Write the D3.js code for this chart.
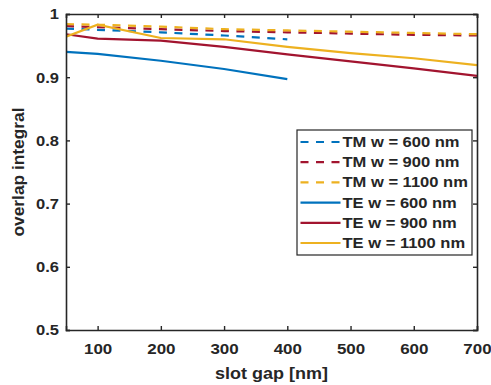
<!DOCTYPE html>
<html>
<head>
<meta charset="utf-8">
<script src="https://cdn.jsdelivr.net/npm/d3@7"></script>
<style>
  html, body { margin: 0; padding: 0; background: #fff; }
  svg { display: block; }
  text { font-family: "Liberation Sans", Arial, sans-serif; font-weight: bold; fill: #262626; }
</style>
</head>
<body>
<svg id="chart" width="491" height="385"></svg>
<script>
// Slot gap (nm) sampled for each mode
const gapsWide = [50, 100, 200, 300, 400, 500, 600, 700];
const gapsNarrow = [50, 100, 200, 300, 400];

// Overlap integral per mode and waveguide width
const tm600 = [0.977, 0.975, 0.971, 0.966, 0.960];
const tm900 = [0.981, 0.979, 0.976, 0.973, 0.971, 0.969, 0.967, 0.966];
const tm1100 = [0.984, 0.983, 0.980, 0.976, 0.974, 0.972, 0.970, 0.968];
const te600 = [0.940, 0.937, 0.926, 0.913, 0.897];
const te900 = [0.968, 0.961, 0.958, 0.948, 0.936, 0.925, 0.914, 0.902];
const te1100 = [0.964, 0.983, 0.962, 0.960, 0.948, 0.938, 0.930, 0.919];

const seriesNames = ["TM w = 600 nm", "TM w = 900 nm", "TM w = 1100 nm",
                     "TE w = 600 nm", "TE w = 900 nm", "TE w = 1100 nm"];
const xTicks = [100, 200, 300, 400, 500, 600, 700];
const yTicks = [0.5, 0.6, 0.7, 0.8, 0.9, 1];
const xLabel = "slot gap [nm]";
const yLabel = "overlap integral";

const colors = { w600: "#0072BD", w900: "#A2142F", w1100: "#EDB120" };

const series = [
  { name: seriesNames[0], x: gapsNarrow, y: tm600, color: colors.w600, dashed: true },
  { name: seriesNames[1], x: gapsWide, y: tm900, color: colors.w900, dashed: true },
  { name: seriesNames[2], x: gapsWide, y: tm1100, color: colors.w1100, dashed: true },
  { name: seriesNames[3], x: gapsNarrow, y: te600, color: colors.w600, dashed: false },
  { name: seriesNames[4], x: gapsWide, y: te900, color: colors.w900, dashed: false },
  { name: seriesNames[5], x: gapsWide, y: te1100, color: colors.w1100, dashed: false }
];

const svg = d3.select("#chart");
const plot = { left: 66, right: 477, top: 14, bottom: 330 };
const axisColor = "#262626";
const dash = "8,7.5";

const x = d3.scaleLinear().domain([50, 700]).range([plot.left, plot.right]);
const y = d3.scaleLinear().domain([0.5, 1]).range([plot.bottom, plot.top]);

// Widen glyphs along the baseline to the wide bold face of the labels
function widen(sel, k) {
  sel.each(function () {
    const len = this.getComputedTextLength();
    d3.select(this).attr("textLength", len * k).attr("lengthAdjust", "spacingAndGlyphs");
  });
}

// Data lines, clipped to the axes box
svg.append("clipPath").attr("id", "plotClip")
  .append("rect")
  .attr("x", plot.left).attr("y", plot.top)
  .attr("width", plot.right - plot.left).attr("height", plot.bottom - plot.top);

const line = d3.line().x(d => x(d[0])).y(d => y(d[1]));
const lines = svg.append("g").attr("clip-path", "url(#plotClip)");
series.forEach(s => {
  lines.append("path")
    .datum(s.x.map((v, i) => [v, s.y[i]]))
    .attr("d", line)
    .attr("fill", "none")
    .attr("stroke", s.color)
    .attr("stroke-width", 2.2)
    .attr("stroke-dasharray", s.dashed ? dash : null);
});

// Axes: ticks point inward, mirrored on the opposite sides
const tickLen = 4;
const xBottom = svg.append("g")
  .attr("transform", `translate(0,${plot.bottom})`)
  .call(d3.axisBottom(x).tickValues(xTicks).tickSize(-tickLen).tickPadding(13).tickFormat(d3.format("d")));
const xTop = svg.append("g")
  .attr("transform", `translate(0,${plot.top})`)
  .call(d3.axisTop(x).tickValues(xTicks).tickSize(-tickLen).tickFormat(""));
const yLeft = svg.append("g")
  .attr("transform", `translate(${plot.left},0)`)
  .call(d3.axisLeft(y).tickValues(yTicks).tickSize(-tickLen).tickPadding(7).tickFormat(d => d === 1 ? "1" : d3.format(".1f")(d)));
const yRight = svg.append("g")
  .attr("transform", `translate(${plot.right},0)`)
  .call(d3.axisRight(y).tickValues(yTicks).tickSize(-tickLen).tickFormat(""));

[xBottom, xTop, yLeft, yRight].forEach(g => {
  g.select(".domain").attr("stroke", axisColor).attr("stroke-width", 1.6);
  g.selectAll(".tick line").attr("stroke", axisColor).attr("stroke-width", 1.4);
  g.selectAll(".tick text").attr("fill", axisColor).attr("font-size", 15)
    .attr("font-family", "Liberation Sans, Arial, sans-serif").attr("font-weight", "bold");
});
widen(xBottom.selectAll(".tick text"), 1.13);
widen(yLeft.selectAll(".tick text"), 1.1);

// Axis titles
const xTitle = svg.append("text")
  .attr("x", (plot.left + plot.right) / 2).attr("y", 379)
  .attr("text-anchor", "middle").attr("font-size", 16.5)
  .text(xLabel);
widen(xTitle, 1.09);

const yTitle = svg.append("text")
  .attr("transform", `translate(24,${(plot.top + plot.bottom) / 2}) rotate(-90)`)
  .attr("text-anchor", "middle").attr("font-size", 16.5)
  .text(yLabel);
widen(yTitle, 1.05);

// Legend
const leg = { x: 297, y: 130, w: 175, h: 125, row0: 142, rowStep: 20.2 };
const legend = svg.append("g");
legend.append("rect")
  .attr("x", leg.x).attr("y", leg.y).attr("width", leg.w).attr("height", leg.h)
  .attr("fill", "#fff").attr("stroke", axisColor).attr("stroke-width", 1.2);
series.forEach((s, i) => {
  const cy = leg.row0 + i * leg.rowStep;
  legend.append("line")
    .attr("x1", 300.5).attr("x2", 340.5).attr("y1", cy).attr("y2", cy)
    .attr("stroke", s.color).attr("stroke-width", 2.2)
    .attr("stroke-dasharray", s.dashed ? dash : null);
  const t = legend.append("text")
    .attr("x", 342.5).attr("y", cy + 5).attr("font-size", 14)
    .text(s.name);
  widen(t, 1.18);
});
</script>
</body>
</html>
